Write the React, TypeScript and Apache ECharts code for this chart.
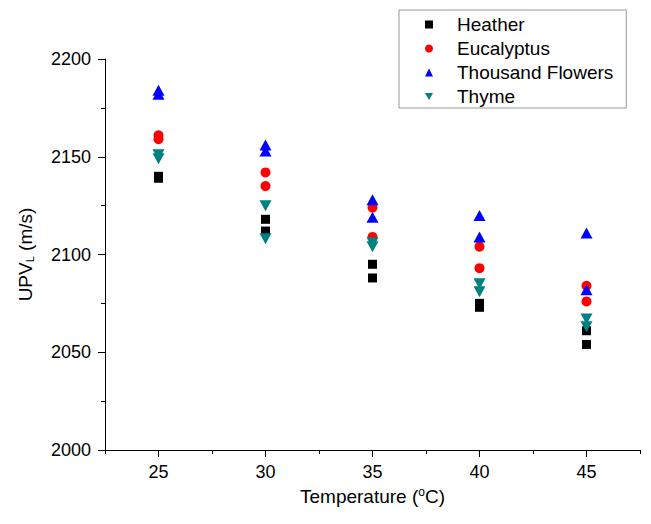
import React, { useEffect, useRef } from "react";
import * as echarts from "echarts";

const temperatures = [25, 30, 35, 40, 45];
const heather1 = [2140, 2118, 2095, 2075, 2061];
const heather2 = [2139, 2112, 2088, 2073, 2054];
const eucalyptus1 = [2161, 2142, 2124, 2104, 2084];
const eucalyptus2 = [2159, 2135, 2109, 2093, 2076];
const thousand1 = [2184, 2156, 2128, 2120, 2111];
const thousand2 = [2182, 2153, 2119, 2109, 2082];
const thyme1 = [2151, 2125, 2106, 2085, 2067];
const thyme2 = [2149, 2108, 2104, 2081, 2063];
const xTickLabels = [25, 30, 35, 40, 45];
const xMinorTicks = [22.5, 27.5, 32.5, 37.5, 42.5, 47.5];

const downTriangle = "path://M0,0 L10,0 L5,9 Z";

function pairs(a: number[], b: number[]) {
  const out: number[][] = [];
  temperatures.forEach((t, i) => {
    out.push([t, a[i]]);
    out.push([t, b[i]]);
  });
  return out;
}

export default function App() {
  const ref = useRef<HTMLDivElement>(null);
  useEffect(() => {
    if (!ref.current) return;
    const chart = echarts.init(ref.current, undefined, { renderer: "svg" });
    const font = "Liberation Sans, Arial, sans-serif";
    chart.setOption({
      animation: false,
      backgroundColor: "#fff",
      textStyle: { fontFamily: font },
      grid: { left: 105, right: 11, top: 59, bottom: 74 },
      legend: {
        orient: "vertical",
        left: 399,
        top: 10,
        borderColor: "#999",
        borderWidth: 1,
        padding: [4, 13, 1, 26],
        itemGap: 3,
        itemWidth: 8,
        itemHeight: 8,
        textStyle: { fontSize: 19, lineHeight: 21, color: "#000", fontFamily: font, padding: [0, 0, 0, 19] },
        data: [
          { name: "Heather", icon: "rect" },
          { name: "Eucalyptus", icon: "circle" },
          { name: "Thousand Flowers", icon: "triangle" },
          { name: "Thyme", icon: downTriangle },
        ],
      },
      xAxis: [
        {
          type: "value",
          min: 22.5,
          max: 47.5,
          interval: 5,
          position: "bottom",
          axisLine: { show: true, onZero: false, lineStyle: { color: "#000", width: 1 } },
          axisTick: { show: true, inside: false, length: 7, customValues: xTickLabels, lineStyle: { color: "#000" } },
          axisLabel: { customValues: xTickLabels, fontSize: 18, color: "#000", margin: 13, fontFamily: font },
          splitLine: { show: false },
          name: "{a|Temperature (}{sup|o}{a|C)}",
          nameLocation: "middle",
          nameGap: 33,
          nameTextStyle: {
            rich: {
              a: { fontSize: 19, color: "#000", fontFamily: font },
              sup: { fontSize: 12, color: "#000", fontFamily: font, verticalAlign: "top", padding: [0, 0, 10, 0] },
            },
          },
        },
        {
          type: "value",
          min: 22.5,
          max: 47.5,
          position: "bottom",
          offset: 0,
          axisLine: { show: false, onZero: false },
          axisTick: { show: true, inside: false, length: 4, customValues: xMinorTicks, lineStyle: { color: "#000" } },
          axisLabel: { show: false },
          splitLine: { show: false },
        },
      ],
      yAxis: {
        type: "value",
        min: 2000,
        max: 2200,
        interval: 50,
        axisLine: { show: true, lineStyle: { color: "#000", width: 1 } },
        axisTick: { show: true, length: 7, lineStyle: { color: "#000" } },
        minorTick: { show: true, splitNumber: 2, length: 4, lineStyle: { color: "#000" } },
        axisLabel: { fontSize: 18, color: "#000", margin: 14, fontFamily: font, formatter: (v: number) => String(v) },
        splitLine: { show: false },
        name: "{a|UPV}{sub|L}{a| (m/s)}",
        nameLocation: "middle",
        nameGap: 70,
        nameRotate: 90,
        nameTextStyle: {
          rich: {
            a: { fontSize: 19, color: "#000", fontFamily: font },
            sub: { fontSize: 11, color: "#000", fontFamily: font, verticalAlign: "bottom", padding: [9, 0, 0, 0] },
          },
        },
      },
      series: [
        { name: "Heather", type: "scatter", symbol: "rect", symbolSize: 9, itemStyle: { color: "#000000", opacity: 1 }, data: pairs(heather1, heather2) },
        { name: "Eucalyptus", type: "scatter", symbol: "circle", symbolSize: 10, itemStyle: { color: "#ff0000", opacity: 1 }, data: pairs(eucalyptus1, eucalyptus2) },
        { name: "Thousand Flowers", type: "scatter", symbol: "triangle", symbolSize: [12, 11], itemStyle: { color: "#0000ff", opacity: 1 }, data: pairs(thousand1, thousand2) },
        { name: "Thyme", type: "scatter", symbol: downTriangle, symbolSize: [12, 11], itemStyle: { color: "#008080", opacity: 1 }, data: pairs(thyme1, thyme2) },
      ],
    });
    return () => chart.dispose();
  }, []);
  return <div ref={ref} style={{ width: 651, height: 524, margin: -8 }} />;
}
